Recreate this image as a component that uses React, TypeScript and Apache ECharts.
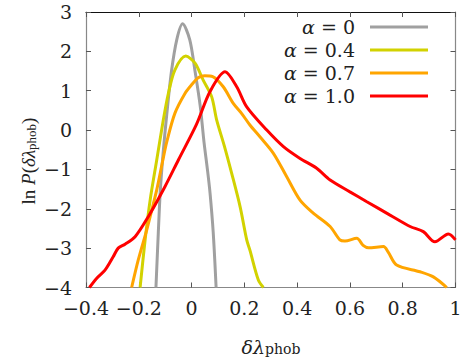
import React, { useEffect, useRef } from "react";
import * as echarts from "echarts";

const xTicks = { min: -0.4, max: 1, interval: 0.2 };
const yTicks = { min: -4, max: 3, interval: 1 };

const seriesNames = ["α = 0", "α = 0.4", "α = 0.7", "α = 1.0"];
const seriesColors = ["#a0a0a0", "#d2d200", "#ffa500", "#ff0000"];

const grayX = [-0.135, -0.126, -0.119, -0.108, -0.094, -0.076, -0.056, -0.034, -0.007, 0.013, 0.033, 0.047, 0.06, 0.07, 0.082, 0.093];
const grayY = [-4, -2.6, -1.6, -0.6, 0.4, 1.5, 2.3, 2.7, 2.3, 1.5, 0.6, -0.3, -1.0, -1.6, -2.6, -4];

const yellowX = [-0.195, -0.176, -0.157, -0.132, -0.107, -0.088, -0.063, -0.022, 0.013, 0.044, 0.076, 0.095, 0.124, 0.152, 0.184, 0.209, 0.221, 0.253, 0.272];
const yellowY = [-4, -2.79, -1.78, -0.76, 0.26, 0.93, 1.53, 1.88, 1.7, 1.27, 0.85, 0.26, -0.4, -1.1, -1.95, -2.79, -3.05, -3.81, -4];

const orangeX = [-0.227, -0.202, -0.17, -0.157, -0.132, -0.11, -0.094, -0.063, -0.025, 0.0, 0.025, 0.05, 0.08, 0.12, 0.158, 0.19, 0.221, 0.259, 0.31, 0.36, 0.411, 0.461, 0.525, 0.562, 0.581, 0.626, 0.65, 0.67, 0.727, 0.745, 0.777, 0.866, 0.916, 0.967];
const orangeY = [-4, -3.3, -2.54, -2.2, -1.52, -0.8, -0.3, 0.43, 0.93, 1.15, 1.33, 1.38, 1.36, 1.1, 0.68, 0.42, 0.13, -0.17, -0.59, -1.18, -1.78, -2.11, -2.45, -2.79, -2.82, -2.75, -2.93, -2.99, -2.96, -3.1, -3.43, -3.6, -3.73, -4];

const redX = [-0.387, -0.36, -0.328, -0.297, -0.278, -0.252, -0.214, -0.164, -0.101, -0.05, 0.019, 0.07, 0.127, 0.171, 0.209, 0.285, 0.348, 0.411, 0.474, 0.525, 0.6, 0.664, 0.752, 0.828, 0.878, 0.922, 0.973, 1.0];
const redY = [-4, -3.77, -3.56, -3.22, -3.0, -2.9, -2.71, -2.2, -1.44, -0.76, 0.15, 0.98, 1.48, 1.1, 0.59, 0.0, -0.42, -0.72, -0.97, -1.27, -1.57, -1.82, -2.16, -2.45, -2.58, -2.84, -2.64, -2.79];

const allX = [grayX, yellowX, orangeX, redX];
const allY = [grayY, yellowY, orangeY, redY];

const FONT = "DejaVu Serif";
const FONT2 = "Liberation Serif";

const fmt = (v: number) => String(Number(v.toFixed(1))).replace("-", "−");

export default function App() {
  const ref = useRef<HTMLDivElement>(null);
  useEffect(() => {
    if (!ref.current) return;
    const chart = echarts.init(ref.current, null, { renderer: "svg" });
    const axisCommon = {
      type: "value" as const,
      splitLine: { show: false },
      axisTick: { show: true, inside: true, length: 5, lineStyle: { color: "#555", width: 1 } },
    };
    const legendGraphics: any[] = [];
    seriesNames.forEach((name, i) => {
      const yy = 27 + i * 23;
      const num = name.replace("α = ", "");
      legendGraphics.push({
        type: "text",
        x: 355,
        y: yy,
        style: {
          text: "{a|α}{r| = " + num + "}",
          align: "right",
          verticalAlign: "middle",
          rich: {
            a: { fontStyle: "italic", fontFamily: FONT, fontSize: 19, fill: "#222" },
            r: { fontFamily: FONT, fontSize: 19, fill: "#222" },
          },
        },
      });
      legendGraphics.push({
        type: "line",
        shape: { x1: 370, y1: yy, x2: 428, y2: yy },
        style: { stroke: seriesColors[i], lineWidth: 3 },
      });
    });
    chart.setOption({
      animation: false,
      backgroundColor: "#fff",
      grid: { left: 86, top: 12, right: 15.5, bottom: 71.5, containLabel: false },
      xAxis: [
        {
          ...axisCommon,
          ...xTicks,
          position: "bottom",
          axisLine: { show: true, onZero: false, lineStyle: { color: "#888", width: 1.2 } },
          axisLabel: { formatter: fmt, margin: 11, fontSize: 19, fontFamily: FONT, color: "#222" },
        },
        {
          ...axisCommon,
          ...xTicks,
          position: "top",
          axisLine: { show: true, onZero: false, lineStyle: { color: "#111", width: 1.2 } },
          axisLabel: { show: false },
        },
      ],
      yAxis: [
        {
          ...axisCommon,
          ...yTicks,
          position: "left",
          axisLine: { show: true, onZero: false, lineStyle: { color: "#888", width: 1.2 } },
          axisLabel: { formatter: fmt, margin: 14, fontSize: 19, fontFamily: FONT, color: "#222" },
        },
        {
          ...axisCommon,
          ...yTicks,
          position: "right",
          axisLine: { show: true, onZero: false, lineStyle: { color: "#888", width: 1.2 } },
          axisLabel: { show: false },
        },
      ],
      series: seriesNames.map((name, i) => ({
        name,
        type: "line",
        xAxisIndex: 0,
        yAxisIndex: 0,
        data: allX[i].map((x, k) => [x, allY[i][k]]),
        smooth: 0.3,
        showSymbol: false,
        clip: true,
        lineStyle: { color: seriesColors[i], width: 3 },
        itemStyle: { color: seriesColors[i] },
      })),
      graphic: [
        ...legendGraphics,
        {
          type: "text",
          x: 271,
          y: 343,
          style: {
            text: "{i|δλ}{s|phob}",
            align: "center",
            verticalAlign: "middle",
            rich: {
              i: { fontStyle: "italic", fontFamily: FONT, fontSize: 19, fill: "#222", verticalAlign: "bottom", lineHeight: 26 },
              s: { fontFamily: FONT, fontSize: 14, fill: "#222", verticalAlign: "bottom", lineHeight: 20, padding: [6, 0, 0, 0] },
            },
          },
        },
        {
          type: "text",
          x: 26,
          y: 161,
          rotation: Math.PI / 2,
          style: {
            text: "{r|ln }{i|P}{r|(}{i|δλ}{s|phob}{r|)}",
            align: "center",
            verticalAlign: "middle",
            rich: {
              r: { fontFamily: FONT2, fontSize: 19, fill: "#222", verticalAlign: "bottom", lineHeight: 24 },
              i: { fontStyle: "italic", fontFamily: FONT2, fontSize: 19, fill: "#222", verticalAlign: "bottom", lineHeight: 24 },
              s: { fontFamily: FONT2, fontSize: 13, fill: "#222", verticalAlign: "bottom", lineHeight: 18, padding: [6, 0, 0, 0] },
            },
          },
        },
      ],
    });
    return () => chart.dispose();
  }, []);
  return <div ref={ref} style={{ width: 471, height: 359, position: "absolute", left: 0, top: 0 }} />;
}
